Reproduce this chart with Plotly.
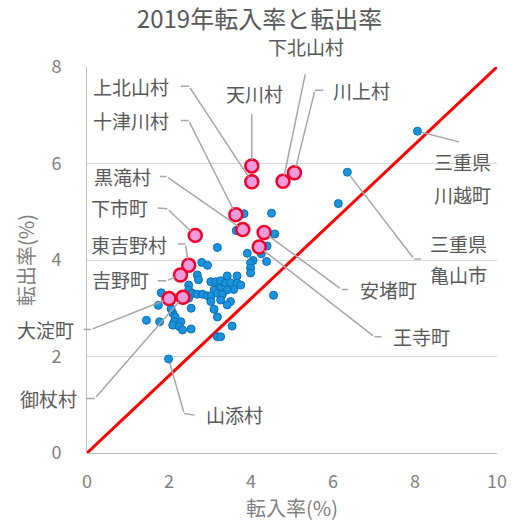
import plotly.graph_objects as go

# 2019年 市町村別の転入率・転出率 (%)
# 強調表示する町村
hl_names = ["天川村", "上北山村", "下北山村", "川上村", "十津川村", "黒滝村", "安堵町",
            "下市町", "王寺町", "東吉野村", "吉野町", "大淀町", "御杖村"]
hl_in = [4.02, 4.02, 4.78, 5.06, 3.63, 3.80, 4.32, 2.64, 4.20, 2.48, 2.28, 2.00, 2.34]
hl_out = [5.95, 5.62, 5.63, 5.81, 4.94, 4.63, 4.57, 4.51, 4.27, 3.89, 3.69, 3.20, 3.23]

# 名前を付ける他の市町村
ref_names = ["三重県川越町", "三重県亀山市", "山添村"]
ref_in = [8.06, 6.35, 1.99]
ref_out = [6.67, 5.82, 1.95]

# その他の市町村
other_in = [6.13, 4.50, 3.83, 3.64, 4.58, 3.18, 4.39, 3.91, 4.25, 4.05, 4.38, 3.99, 3.99,
            3.99, 2.80, 2.94, 2.69, 2.72, 2.48, 2.48, 2.57, 2.69, 2.82, 2.94, 2.48, 2.54,
            1.81, 1.74, 2.09, 2.15, 2.13, 2.29, 2.09, 2.25, 2.33, 2.54, 1.45, 1.77, 2.05,
            3.02, 3.14, 3.26, 3.42, 3.66, 3.38, 3.50, 3.66, 3.75, 3.58, 3.42, 3.22, 3.10,
            3.02, 3.18, 3.30, 3.26, 3.02, 3.50, 3.42, 3.10, 3.18, 3.54, 4.55, 3.18, 3.26]
other_out = [5.17, 4.97, 4.96, 4.61, 4.54, 4.26, 4.29, 4.14, 4.13, 3.99, 3.97, 3.94, 3.83,
             3.73, 3.95, 3.89, 3.69, 3.59, 3.48, 3.38, 3.31, 3.29, 3.29, 3.26, 3.21, 3.00,
             3.32, 3.06, 2.90, 2.82, 2.72, 2.72, 2.65, 2.62, 2.55, 2.57, 2.75, 2.72, 2.99,
             3.55, 3.55, 3.57, 3.67, 3.67, 3.52, 3.53, 3.52, 3.48, 3.39, 3.38, 3.41, 3.38,
             3.25, 3.31, 3.28, 3.17, 3.14, 3.14, 3.07, 2.98, 2.82, 2.63, 3.27, 2.41, 2.41]

# 対角の基準線
diag_x = [0, 10]
diag_y = [0, 8]

# 軸目盛と範囲
x_ticks = [0, 2, 4, 6, 8, 10]
y_ticks = [0, 2, 4, 6, 8]
X_RANGE = [0, 10]
Y_RANGE = [0, 8]

# ラベル配置: 文字の位置 (x, y) と引き出し線の経路（最後に点の座標へ接続）
label_layout = {
    "上北山村": dict(lines=[("上北山村", 2.06, 7.60)], anchor="right", path=[(2.25, 7.60), (2.49, 7.60)]),
    "十津川村": dict(lines=[("十津川村", 2.06, 6.89)], anchor="right", path=[(2.25, 6.89), (2.48, 6.89)]),
    "天川村": dict(lines=[("天川村", 4.08, 7.46)], anchor="center", path=[(4.02, 7.05)]),
    "黒滝村": dict(lines=[("黒滝村", 1.62, 5.73)], anchor="right", path=[(1.74, 5.73), (1.94, 5.73)]),
    "下市町": dict(lines=[("下市町", 1.53, 5.08)], anchor="right", path=[(1.69, 5.08), (1.96, 5.06)]),
    "東吉野村": dict(lines=[("東吉野村", 2.01, 4.33)], anchor="right", path=[(2.18, 4.33), (2.40, 4.33)]),
    "吉野町": dict(lines=[("吉野町", 1.57, 3.59)], anchor="right", path=[(1.69, 3.57), (1.94, 3.57)]),
    "大淀町": dict(lines=[("大淀町", -0.27, 2.56)], anchor="right", path=[(-0.12, 2.56), (0.10, 2.56)]),
    "御杖村": dict(lines=[("御杖村", -0.19, 1.13)], anchor="right", path=[(-0.05, 1.13), (0.19, 1.13)]),
    "山添村": dict(lines=[("山添村", 2.86, 0.80)], anchor="left", path=[(2.66, 0.78), (2.37, 0.82)]),
    "下北山村": dict(lines=[("下北山村", 5.33, 8.42)], anchor="center", path=[(5.33, 7.88)]),
    "川上村": dict(lines=[("川上村", 5.96, 7.52)], anchor="left", path=[(5.80, 7.52), (5.56, 7.52)]),
    "三重県川越町": dict(lines=[("三重県", 9.15, 6.04), ("川越町", 9.15, 5.35)], anchor="center",
                    path=[(9.11, 6.44)]),
    "三重県亀山市": dict(lines=[("三重県", 9.07, 4.35), ("亀山市", 9.07, 3.69)], anchor="center",
                    path=[(8.18, 4.02), (7.98, 4.02)]),
    "安堵町": dict(lines=[("安堵町", 6.61, 3.39)], anchor="left", path=[(6.41, 3.39), (6.21, 3.39)]),
    "王寺町": dict(lines=[("王寺町", 7.41, 2.41)], anchor="left", path=[(7.22, 2.41), (7.01, 2.41)]),
}

FONT = "Noto Sans CJK JP"
LABEL_COLOR = "#595959"
AXIS_TEXT = "#7F7F7F"
LEADER = "#A6A6A6"

point_of = {n: (x, y) for n, x, y in zip(hl_names, hl_in, hl_out)}
point_of.update({n: (x, y) for n, x, y in zip(ref_names, ref_in, ref_out)})
highlighted = set(hl_names)

fig = go.Figure()

fig.add_trace(go.Scatter(
    x=diag_x, y=diag_y, mode="lines",
    line=dict(color="#FF0000", width=3), hoverinfo="skip", showlegend=False,
))

fig.add_trace(go.Scatter(
    x=other_in + ref_in, y=other_out + ref_out, mode="markers",
    text=[""] * len(other_in) + ref_names,
    marker=dict(size=8, color="#1A92DC", line=dict(color="#0B6DB5", width=1)),
    showlegend=False,
))

fig.add_trace(go.Scatter(
    x=hl_in, y=hl_out, mode="markers", text=hl_names,
    marker=dict(size=13, color="#EE9ADB", line=dict(color="#F0002A", width=2.5)),
    showlegend=False,
))


def to_domain(x, y):
    """データ座標を軸ドメイン座標に変換（範囲外の文字も描けるように）"""
    return ((x - X_RANGE[0]) / (X_RANGE[1] - X_RANGE[0]),
            (y - Y_RANGE[0]) / (Y_RANGE[1] - Y_RANGE[0]))


def segment(p0, p1, standoff=0):
    return dict(
        x=p1[0], y=p1[1], ax=p0[0], ay=p0[1],
        xref="x", yref="y", axref="x", ayref="y",
        text="", showarrow=True, arrowhead=0, arrowwidth=1.5,
        arrowcolor=LEADER, standoff=standoff,
    )


annotations = []
for name, spec in label_layout.items():
    for txt, tx, ty in spec["lines"]:
        dx, dy = to_domain(tx, ty)
        annotations.append(dict(
            x=dx, y=dy, xref="x domain", yref="y domain", text=txt, showarrow=False,
            xanchor=spec["anchor"], yanchor="middle",
            font=dict(family=FONT, size=19, color=LABEL_COLOR),
        ))
    pts = spec["path"] + [point_of[name]]
    for i in range(len(pts) - 1):
        so = 0
        if i == len(pts) - 2:
            so = 6 if name in highlighted else 4
        annotations.append(segment(pts[i], pts[i + 1], so))

fig.update_layout(
    width=519, height=529,
    margin=dict(l=87, r=19, t=67, b=76),
    paper_bgcolor="white", plot_bgcolor="white",
    font=dict(family=FONT, color=AXIS_TEXT),
    title=dict(
        text="2019年転入率と転出率", x=0.5, xanchor="center",
        y=1 - 20 / 529, yanchor="middle", yref="container",
        font=dict(family=FONT, size=24, color=LABEL_COLOR),
    ),
    xaxis=dict(
        range=X_RANGE, tickvals=x_ticks, showgrid=False, zeroline=False,
        showline=True, linecolor="#BFBFBF", linewidth=1,
        ticks="", ticklabelstandoff=12,
        tickfont=dict(family=FONT, size=18, color=AXIS_TEXT),
        title=dict(text="転入率(%)", standoff=5,
                   font=dict(family=FONT, size=20, color=AXIS_TEXT)),
    ),
    yaxis=dict(
        range=Y_RANGE, tickvals=y_ticks, showgrid=True, gridcolor="#D9D9D9",
        gridwidth=1, zeroline=False, showline=True, linecolor="#BFBFBF",
        linewidth=1, ticks="", ticklabelstandoff=21,
        tickfont=dict(family=FONT, size=18, color=AXIS_TEXT),
        title=dict(text="転出率(%)", standoff=11,
                   font=dict(family=FONT, size=20, color=AXIS_TEXT)),
    ),
    annotations=annotations,
    showlegend=False,
)

fig.write_html("out.html")
